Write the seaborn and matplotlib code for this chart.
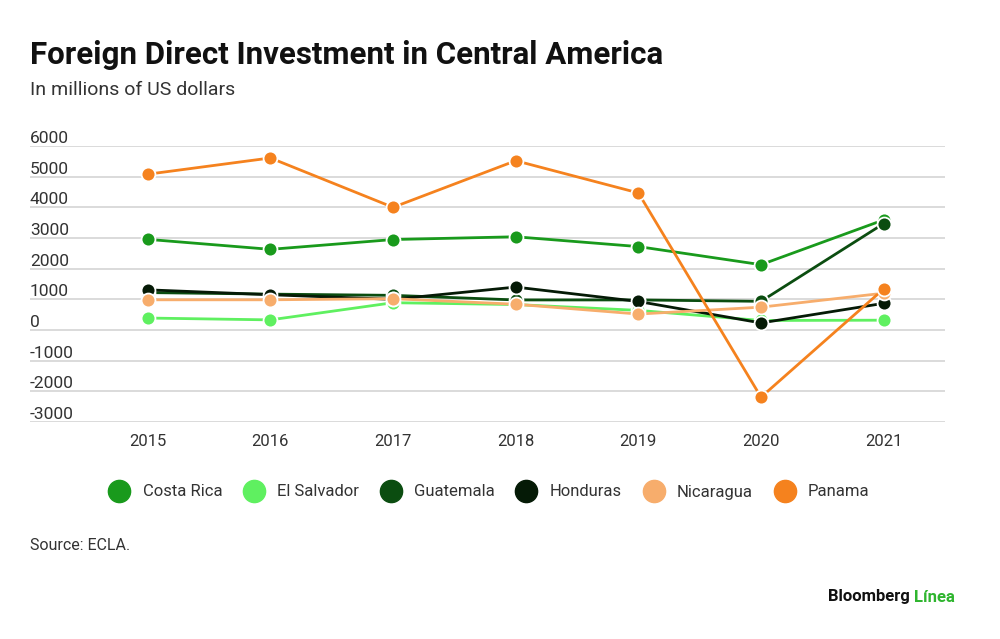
import numpy as np
import pandas as pd
import matplotlib.pyplot as plt
import matplotlib.transforms as mtransforms
from matplotlib.lines import Line2D
import seaborn as sns

years = [2015, 2016, 2017, 2018, 2019, 2020, 2021]
costa_rica = [2956, 2630, 2950, 3040, 2720, 2130, 3590]
el_salvador = [390, 330, 890, 830, 640, 310, 320]
guatemala = [1220, 1170, 1130, 980, 980, 935, 3470]
honduras = [1310, 1150, 1000, 1400, 930, 230, 870]
nicaragua = [985, 985, 1020, 840, 520, 745, 1200]
panama = [5080, 5610, 4000, 5520, 4470, -2190, 1340]

countries = ['Costa Rica', 'El Salvador', 'Guatemala', 'Honduras', 'Nicaragua', 'Panama']
colors = ['#199a1c', '#5ff060', '#0b4d10', '#051a06', '#f7ad6c', '#f5821e']
y_ticks = [6000, 5000, 4000, 3000, 2000, 1000, 0, -1000, -2000, -3000]

df = pd.DataFrame({'year': years, 'Costa Rica': costa_rica, 'El Salvador': el_salvador,
                   'Guatemala': guatemala, 'Honduras': honduras,
                   'Nicaragua': nicaragua, 'Panama': panama})
long = df.melt(id_vars='year', var_name='country', value_name='fdi')

sns.set_theme(style='white')
plt.rcParams['font.family'] = ['Roboto', 'DejaVu Sans']

fig = plt.figure(figsize=(10, 6.39), dpi=100)
ax = fig.add_axes([0.03, 1 - 422 / 639, 0.915, (422 - 146) / 639])

sns.lineplot(data=long, x='year', y='fdi', hue='country', hue_order=countries,
             palette=colors, marker='o', markersize=10, markeredgecolor='white',
             markeredgewidth=1.3, linewidth=2.0, ax=ax, legend=False, clip_on=False)

ax.set_xlim(2014.04, 2021.5)
ax.set_ylim(-3000, 6000)
ax.set_yticks(y_ticks)
ax.set_yticklabels([])
ax.tick_params(axis='y', length=0)
ax.set_xticks(years)
ax.set_xticklabels([str(y) for y in years], fontsize=12, color='#333333')
ax.tick_params(axis='x', length=0, pad=9)
ax.grid(axis='y', color='#d4d4d4', linewidth=1.2)
ax.set_axisbelow(True)
for s in ax.spines.values():
    s.set_visible(False)
ax.set_xlabel('')
ax.set_ylabel('')

# y labels sit above their gridlines, left aligned
trans = mtransforms.blended_transform_factory(ax.transAxes, ax.transData)
for t in y_ticks:
    ax.text(0, t, str(t), transform=trans, ha='left', va='bottom', fontsize=12.5,
            color='#333333')

fig.text(0.03, 1 - 55 / 639, 'Foreign Direct Investment in Central America',
         fontsize=22.5, fontweight='bold', color='#111111', va='center', ha='left')
fig.text(0.03, 1 - 90 / 639, 'In millions of US dollars', fontsize=14,
         color='#333333', va='center', ha='left')

handles = [Line2D([], [], marker='o', linestyle='', markersize=16,
                  markerfacecolor=c, markeredgecolor=c) for c in colors]
fig.legend(handles, countries, loc='center', bbox_to_anchor=(0.486, 1 - 492 / 639),
           ncol=6, frameon=False, fontsize=12, handletextpad=0.4,
           columnspacing=0.9, labelcolor='#333333')

fig.text(0.03, 1 - 545 / 639, 'Source: ECLA.', fontsize=11.5, color='#333333',
         va='center', ha='left')
fig.text(0.910, 1 - 597 / 639, 'Bloomberg', fontsize=12, fontweight='bold',
         color='#111111', va='center', ha='right')
fig.text(0.914, 1 - 597 / 639, 'Línea', fontsize=12, fontweight='bold',
         color='#2fb52f', va='center', ha='left')

fig.savefig('out.png', dpi=100, facecolor='white')
